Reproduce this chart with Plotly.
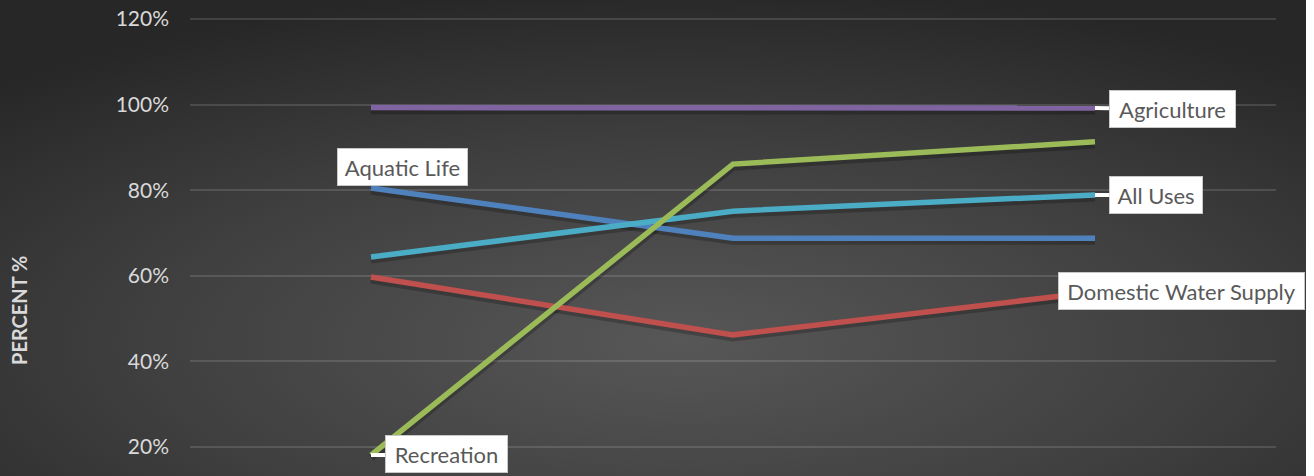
import plotly.graph_objects as go
import urllib.parse

categories = ["Period 1", "Period 2", "Period 3"]
agriculture = [99.3, 99.3, 99.2]
recreation = [18.1, 86.1, 91.3]
aquatic_life = [80.5, 68.8, 68.8]
all_uses = [64.4, 75.1, 78.9]
domestic_water = [59.7, 46.2, 56.2]

series = [
    ("Aquatic Life", aquatic_life, "#4F81BD"),
    ("Domestic Water Supply", domestic_water, "#C0504D"),
    ("All Uses", all_uses, "#4BACC6"),
    ("Recreation", recreation, "#9BBB59"),
    ("Agriculture", agriculture, "#8064A2"),
]

W, H = 1314, 476
L, R = 190, 1276
PW = R - L

fig = go.Figure()
# soft shadows
for name, vals, col in series:
    fig.add_trace(go.Scatter(x=categories, y=[v - 0.6 for v in vals], mode="lines",
                             line=dict(color="rgba(0,0,0,0.22)", width=8),
                             hoverinfo="skip", showlegend=False))
for name, vals, col in series:
    fig.add_trace(go.Scatter(x=categories, y=vals, mode="lines", name=name,
                             line=dict(color=col, width=5.5), showlegend=False))

svg = ('<svg xmlns="http://www.w3.org/2000/svg" width="1306" height="476" viewBox="0 0 1306 476" preserveAspectRatio="none">'
       '<defs><radialGradient id="g" cx="0.52" cy="0.72" r="0.75" gradientUnits="objectBoundingBox">'
       '<stop offset="0" stop-color="#575757"/><stop offset="0.55" stop-color="#3f3f3f"/>'
       '<stop offset="1" stop-color="#272727"/></radialGradient></defs>'
       '<rect width="1306" height="476" fill="url(#g)"/></svg>')
src = "data:image/svg+xml;charset=utf-8," + urllib.parse.quote(svg)

fig.add_layout_image(dict(source=src, xref="paper", yref="paper",
                          x=-L / PW, y=1, sizex=1306 / PW, sizey=1,
                          xanchor="left", yanchor="top", sizing="stretch", layer="below"))

font_lbl = "Lato, Calibri, 'Open Sans', sans-serif"
box = dict(bgcolor="white", bordercolor="#c8c8c8", borderwidth=1, borderpad=0,
           height=36, font=dict(family=font_lbl, size=22, color="#595959"))

# Agriculture
fig.add_annotation(x=2, y=agriculture[2], text="Agriculture", showarrow=True, axref="pixel", ayref="pixel",
                   ax=77, ay=1, arrowhead=0, arrowwidth=4, arrowcolor="white", standoff=0,
                   width=125, **box)
# All Uses
fig.add_annotation(x=2, y=all_uses[2], text="All Uses", showarrow=True, axref="pixel", ayref="pixel",
                   ax=61, ay=0, arrowhead=0, arrowwidth=4, arrowcolor="white", standoff=0,
                   width=92, **box)
# Domestic Water Supply
fig.add_annotation(x=2, y=domestic_water[2], text="Domestic Water Supply", showarrow=False,
                   xshift=86, yshift=1, width=245, **box)
# Aquatic Life
fig.add_annotation(x=0, y=aquatic_life[0], text="Aquatic Life", showarrow=False,
                   xshift=31, yshift=21, width=129, **box)
# Recreation
fig.add_annotation(x=0, y=recreation[0], text="Recreation", showarrow=True, axref="pixel", ayref="pixel",
                   ax=75, ay=-1, arrowhead=0, arrowwidth=4, arrowcolor="white", standoff=0,
                   width=121, **box)

# Y axis title
fig.add_annotation(xref="paper", yref="paper", x=(19 - L) / PW, y=(H - 311) / H,
                   xanchor="center", yanchor="middle",
                   text="<b>PERCENT %</b>", textangle=-90, showarrow=False,
                   font=dict(family=font_lbl, size=20, color="#d9d9d9"))

fig.update_layout(
    width=W, height=H,
    margin=dict(l=L, r=W - R, t=0, b=0, pad=0),
    paper_bgcolor="white",
    plot_bgcolor="rgba(0,0,0,0)",
    xaxis=dict(type="category", range=[-0.5, 2.5], showticklabels=False, showgrid=False,
               zeroline=False, showline=False, ticks=""),
    yaxis=dict(range=[13.22, 124.44], tickvals=[20, 40, 60, 80, 100, 120],
               ticktext=["20%", "40%", "60%", "80%", "100%", "120%"],
               showgrid=True, gridcolor="rgba(255,255,255,0.13)", gridwidth=1.5,
               zeroline=False, showline=False, ticks="", ticklabelstandoff=20,
               tickfont=dict(family=font_lbl, size=21, color="#d9d9d9")),
    showlegend=False,
)

fig.write_html("out.html")
